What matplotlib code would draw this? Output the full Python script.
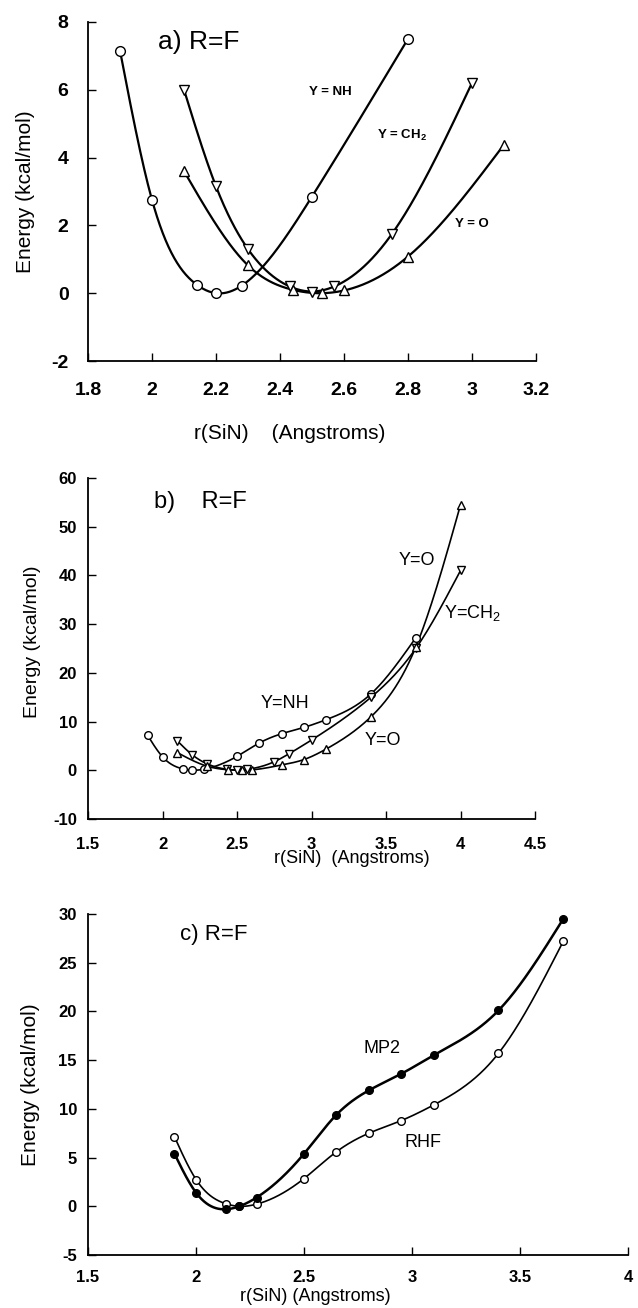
import numpy as np
import matplotlib
matplotlib.use('Agg')
import matplotlib.pyplot as plt
from matplotlib.ticker import FuncFormatter

plt.rcParams['font.family'] = ['Liberation Sans', 'DejaVu Sans']
plt.rcParams['mathtext.fontset'] = 'custom'
plt.rcParams['mathtext.rm'] = 'Liberation Sans'
plt.rcParams['mathtext.default'] = 'regular'

# panel a data
a_nh_x = [1.9, 2.0, 2.14, 2.2, 2.28, 2.5, 2.8]
a_nh_y = [7.15, 2.75, 0.25, 0.0, 0.22, 2.85, 7.5]
a_ch2_x = [2.1, 2.2, 2.3, 2.43, 2.5, 2.57, 2.75, 3.0]
a_ch2_y = [6.0, 3.15, 1.3, 0.2, 0.05, 0.2, 1.75, 6.2]
a_o_x = [2.1, 2.3, 2.44, 2.53, 2.6, 2.8, 3.1]
a_o_y = [3.6, 0.82, 0.1, 0.0, 0.08, 1.08, 4.38]

# panel b data
b_nh_x = [1.9, 2.0, 2.14, 2.2, 2.28, 2.5, 2.65, 2.8, 2.95, 3.1, 3.4, 3.7]
b_nh_y = [7.15, 2.75, 0.25, 0.0, 0.22, 2.85, 5.6, 7.5, 8.8, 10.4, 15.7, 27.2]
b_ch2_x = [2.1, 2.2, 2.3, 2.43, 2.5, 2.57, 2.75, 2.85, 3.0, 3.4, 3.7, 4.0]
b_ch2_y = [6.0, 3.15, 1.3, 0.2, 0.05, 0.2, 1.75, 3.4, 6.2, 15.0, 25.0, 41.0]
b_o_x = [2.1, 2.3, 2.44, 2.53, 2.6, 2.8, 2.95, 3.1, 3.4, 3.7, 4.0]
b_o_y = [3.6, 0.82, 0.1, 0.0, 0.08, 1.08, 2.2, 4.38, 11.0, 25.3, 54.5]

# panel c data
c_x = [1.9, 2.0, 2.14, 2.2, 2.28, 2.5, 2.65, 2.8, 2.95, 3.1, 3.4, 3.7]
c_rhf = [7.15, 2.75, 0.25, 0.0, 0.22, 2.85, 5.6, 7.5, 8.8, 10.4, 15.7, 27.2]
c_mp2 = [5.4, 1.4, -0.3, 0.0, 0.9, 5.4, 9.4, 11.9, 13.6, 15.5, 20.1, 29.5]


def spline(x, y, n=500):
    # natural cubic spline, only used to draw the smooth line
    x = np.asarray(x, float)
    y = np.asarray(y, float)
    h = np.diff(x)
    d = np.diff(y) / h
    k = len(x)
    A = np.zeros((k, k))
    r = np.zeros(k)
    A[0, 0] = A[-1, -1] = 1.0
    for i in range(1, k - 1):
        A[i, i-1] = h[i-1]
        A[i, i] = 2*(h[i-1] + h[i])
        A[i, i+1] = h[i]
        r[i] = 6*(d[i] - d[i-1])
    M = np.linalg.solve(A, r)
    xs = np.linspace(x[0], x[-1], n)
    i = np.clip(np.searchsorted(x, xs) - 1, 0, k - 2)
    hi = h[i]
    a = x[i+1] - xs
    b = xs - x[i]
    ys = (M[i]*a**3/(6*hi) + M[i+1]*b**3/(6*hi)
          + (y[i]/hi - M[i]*hi/6)*a + (y[i+1]/hi - M[i+1]*hi/6)*b)
    return xs, ys


def curve(ax, x, y, marker, lw, ms, fill='white'):
    xs, ys = spline(x, y)
    ax.plot(xs, ys, color='black', lw=lw, zorder=2)
    ax.plot(x, y, ls='none', marker=marker, ms=ms, mfc=fill, mec='black',
            mew=1.0, zorder=3)


def style(ax, xlim, ylim, xticks, yticks, tsize, xpad, ypad):
    ax.set_xlim(*xlim)
    ax.set_ylim(*ylim)
    ax.set_xticks(xticks)
    ax.set_yticks(yticks)
    fmt = FuncFormatter(lambda v, p: '{:g}'.format(round(v, 3)))
    ax.xaxis.set_major_formatter(fmt)
    ax.yaxis.set_major_formatter(fmt)
    for s in ['top', 'right']:
        ax.spines[s].set_visible(False)
    for s in ['left', 'bottom']:
        ax.spines[s].set_linewidth(1.3)
    ax.tick_params(direction='in', length=6, width=1.0)
    ax.tick_params(axis='x', pad=xpad, labelsize=tsize)
    ax.tick_params(axis='y', pad=ypad, labelsize=tsize)
    for lab in ax.get_xticklabels() + ax.get_yticklabels():
        lab.set_fontweight('bold')


fig = plt.figure(figsize=(6.38, 13.08), dpi=100)

# a)
ax1 = fig.add_axes([0.138, 0.724, 0.702, 0.2592])
curve(ax1, a_nh_x, a_nh_y, 'o', 1.6, 7)
curve(ax1, a_ch2_x, a_ch2_y, 'v', 1.6, 7)
curve(ax1, a_o_x, a_o_y, '^', 1.6, 7)
style(ax1, (1.8, 3.2), (-2, 8), np.arange(1.8, 3.21, 0.2), np.arange(-2, 8.1, 2), 14, 15, 14)
ax1.text(2.02, 7.41, 'a) R=F', fontsize=19, va='center', ha='left')
ax1.text(2.556, 5.93, 'Y = NH', fontsize=9.5, fontweight='bold', ha='center', va='center')
ax1.text(2.78, 4.66, 'Y = CH$_2$', fontsize=9.5, fontweight='bold', ha='center', va='center')
ax1.text(3.0, 2.04, 'Y = O', fontsize=9.5, fontweight='bold', ha='center', va='center')
ax1.set_xlabel('r(SiN)    (Angstroms)', fontsize=15)
ax1.xaxis.set_label_coords(0.45, -0.185)
ax1.set_ylabel('Energy (kcal/mol)', fontsize=15)
ax1.yaxis.set_label_coords(-0.118, 0.5)

# b)
ax2 = fig.add_axes([0.138, 0.3739, 0.7006, 0.2607])
curve(ax2, b_nh_x, b_nh_y, 'o', 1.2, 5.5)
curve(ax2, b_ch2_x, b_ch2_y, 'v', 1.2, 5.5)
curve(ax2, b_o_x, b_o_y, '^', 1.2, 5.5)
style(ax2, (1.5, 4.5), (-10, 60), np.arange(1.5, 4.51, 0.5), np.arange(-10, 61, 10), 12, 13, 8)
ax2.text(1.94, 55.1, 'b)    R=F', fontsize=17, va='center', ha='left')
ax2.text(3.707, 43.1, 'Y=O', fontsize=13, ha='center', va='center')
ax2.text(4.08, 32.2, 'Y=CH$_2$', fontsize=13, ha='center', va='center')
ax2.text(2.82, 13.8, 'Y=NH', fontsize=13, ha='center', va='center')
ax2.text(3.48, 6.2, 'Y=O', fontsize=13, ha='center', va='center')
ax2.set_xlabel('r(SiN)  (Angstroms)', fontsize=13)
ax2.xaxis.set_label_coords(0.59, -0.092)
ax2.set_ylabel('Energy (kcal/mol)', fontsize=14)
ax2.yaxis.set_label_coords(-0.105, 0.52)

# c)
ax3 = fig.add_axes([0.138, 0.0405, 0.8464, 0.2607])
curve(ax3, c_x, c_rhf, 'o', 1.2, 5.5)
curve(ax3, c_x, c_mp2, 'o', 1.8, 5.5, fill='black')
style(ax3, (1.5, 4.0), (-5, 30), np.arange(1.5, 4.01, 0.5), np.arange(-5, 31, 5), 12, 11, 8)
ax3.text(1.926, 27.9, 'c) R=F', fontsize=16, va='center', ha='left')
ax3.text(2.86, 16.2, 'MP2', fontsize=13, ha='center', va='center')
ax3.text(3.05, 6.5, 'RHF', fontsize=13, ha='center', va='center')
ax3.set_xlabel('r(SiN) (Angstroms)', fontsize=13)
ax3.xaxis.set_label_coords(0.42, -0.098)
ax3.set_ylabel('Energy (kcal/mol)', fontsize=15)
ax3.yaxis.set_label_coords(-0.089, 0.5)

fig.savefig('out.png', dpi=100)
